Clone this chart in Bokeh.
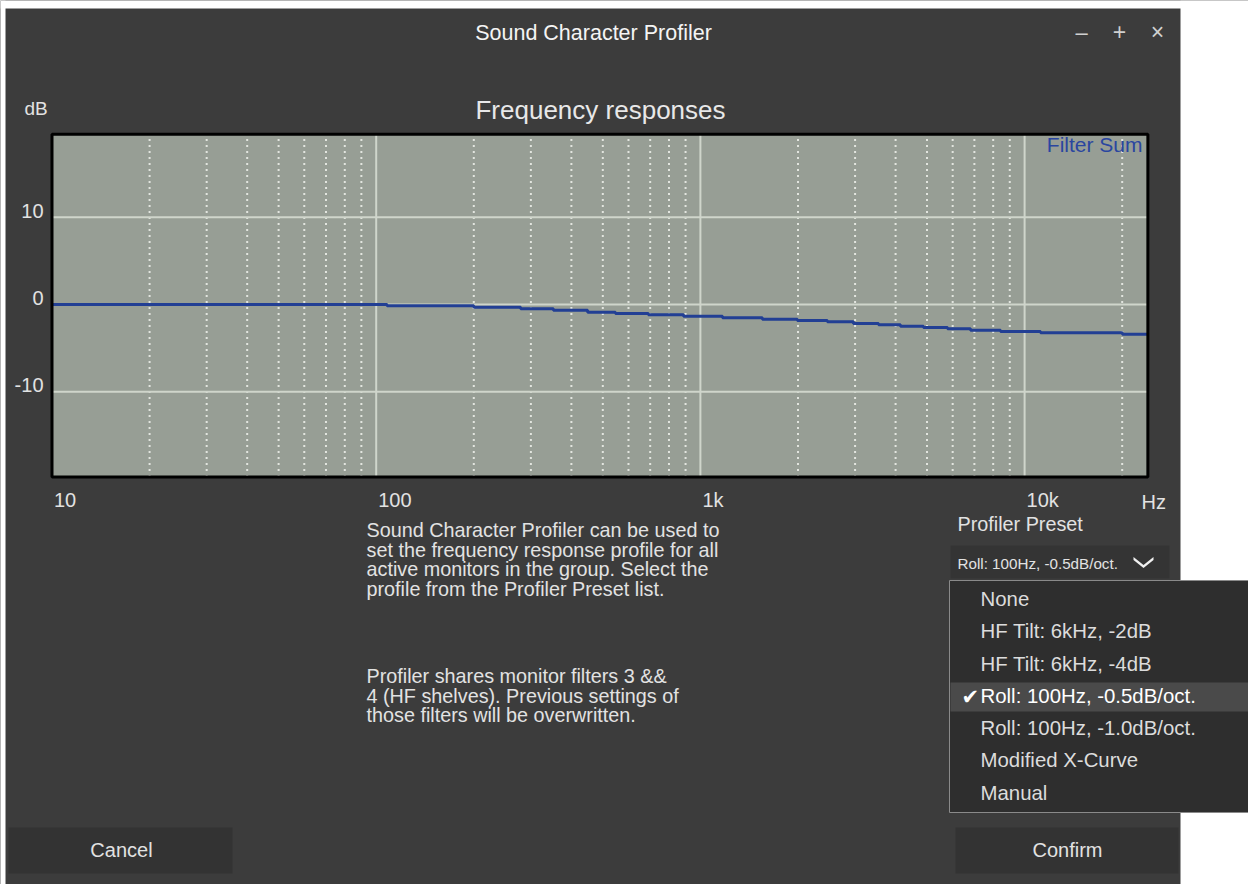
from bokeh.plotting import figure
from bokeh.models import Label, BoxAnnotation, PolyAnnotation, Range1d
from bokeh.core.properties import value
from bokeh.embed import file_html
from bokeh.resources import INLINE

# ---------------- data ----------------
freq_hz = [10, 108, 200, 279, 352, 449, 547, 691, 887, 1170, 1553, 1991, 2464,
           2965, 3544, 4141, 4877, 5785, 6812, 8430, 11200, 20030, 24000]
gain_db = [0.0, -0.15, -0.31, -0.49, -0.65, -0.88, -1.03, -1.18, -1.34, -1.53,
           -1.69, -1.83, -1.98, -2.18, -2.33, -2.49, -2.64, -2.79, -2.95, -3.10,
           -3.25, -3.41, -3.41]
series_name = "Filter Sum"

chart_x = [10, 24000]          # frequency extent of the response chart (Hz)
chart_y = [-19.75, 19.5]       # level extent of the response chart (dB)
x_ticks = [10, 100, 1000, 10000]
x_tick_labels = ["10", "100", "1k", "10k"]
x_minor_ticks = [20, 30, 40, 50, 60, 70, 80, 90,
                 200, 300, 400, 500, 600, 700, 800, 900,
                 2000, 3000, 4000, 5000, 6000, 7000, 8000, 9000,
                 20000]
y_ticks = [-10, 0, 10]
y_tick_labels = ["-10", "0", "10"]

window_title = "Sound Character Profiler"
chart_title = "Frequency responses"
y_unit = "dB"
x_unit = "Hz"
info_par1 = ["Sound Character Profiler can be used to",
             "set the frequency response profile for all",
             "active monitors in the group. Select the",
             "profile from the Profiler Preset list."]
info_par2 = ["Profiler shares monitor filters 3 &&",
             "4 (HF shelves). Previous settings of",
             "those filters will be overwritten."]
preset_label = "Profiler Preset"
presets = ["None", "HF Tilt: 6kHz, -2dB", "HF Tilt: 6kHz, -4dB",
           "Roll: 100Hz, -0.5dB/oct.", "Roll: 100Hz, -1.0dB/oct.",
           "Modified X-Curve", "Manual"]
selected_preset = 3
buttons = ["Cancel", "Confirm"]

# ---------------- layout / styling ----------------
W, H = 1248, 884
FONT = "Liberation Sans"
PANEL = "#3c3c3c"
TXT = "#e2e2e2"
GRID = "#cfd5cb"

# the whole canvas is the plot frame; the scales are set so that the
# response chart sits where the window draws it
PX_PER_DEC, PX_100HZ = 324.2, 375.7
PX_PER_DB, PX_0DB = 8.73, 304.0
x_range = Range1d(10 ** (2 - PX_100HZ / PX_PER_DEC),
                  10 ** (2 + (W - PX_100HZ) / PX_PER_DEC))
y_range = Range1d(-(H - PX_0DB) / PX_PER_DB, PX_0DB / PX_PER_DB)

p = figure(width=W, height=H, x_axis_type="log", x_range=x_range, y_range=y_range,
           x_axis_location=None, y_axis_location=None, title=None,
           output_backend="svg", toolbar_location=None,
           min_border=0, min_border_left=0, min_border_right=0,
           min_border_top=0, min_border_bottom=0)
p.background_fill_color = PANEL
p.border_fill_color = PANEL
p.outline_line_color = None
p.xgrid.visible = False
p.ygrid.visible = False

# chart background
p.quad(left=[chart_x[0]], right=[chart_x[1]], bottom=[chart_y[0]], top=[chart_y[1]],
       fill_color="#979e95", line_color=None)

# grid lines
p.segment(x0=x_minor_ticks, x1=x_minor_ticks,
          y0=[chart_y[0]] * len(x_minor_ticks), y1=[chart_y[1]] * len(x_minor_ticks),
          line_color="#e2e5df", line_width=2, line_dash="2 4")
p.segment(x0=x_ticks, x1=x_ticks,
          y0=[chart_y[0]] * len(x_ticks), y1=[chart_y[1]] * len(x_ticks),
          line_color=GRID, line_width=2)
p.segment(x0=[chart_x[0]] * len(y_ticks), x1=[chart_x[1]] * len(y_ticks),
          y0=y_ticks, y1=y_ticks, line_color=GRID, line_width=2)

# response curve
p.step(freq_hz, gain_db, mode="after", line_color="#223f94", line_width=3)

# tick labels
p.text(x=x_ticks, y=[chart_y[0]] * len(x_ticks), text=x_tick_labels,
       x_offset=2, y_offset=23.5, text_align="left", text_baseline="alphabetic",
       text_font=value(FONT), text_font_size="20px", text_color=TXT)
p.text(x=[chart_x[0]] * len(y_ticks), y=y_ticks, text=y_tick_labels,
       x_offset=-8.5, y_offset=-6.5, text_align="right", text_baseline="alphabetic",
       text_font=value(FONT), text_font_size="20px", text_color=TXT)

# chart border
p.add_layout(BoxAnnotation(left=chart_x[0], right=chart_x[1],
                           bottom=chart_y[0], top=chart_y[1],
                           fill_alpha=0, line_color="black", line_width=3, line_alpha=1))


# ---------------- window chrome (screen units, y measured from the top) ----------------
def sx(px):
    return px


def sy(py):
    return H - py


def box(x0, y0, x1, y1, fill, line=None, lw=1):
    p.add_layout(BoxAnnotation(left=sx(x0), right=sx(x1), top=sy(y0), bottom=sy(y1),
                               left_units="screen", right_units="screen",
                               top_units="screen", bottom_units="screen",
                               fill_color=fill, fill_alpha=1,
                               line_color=line, line_width=lw, line_alpha=1))


def label(px, py, text, size, color=TXT, align="left", font=FONT, style="normal"):
    # py is the wanted baseline; compensate the renderer's baseline placement
    p.add_layout(Label(x=sx(px), y=sy(py - 0.37 * size), x_units="screen", y_units="screen",
                       text=text, text_font=font, text_font_size=f"{size}px",
                       text_color=color, text_align=align, text_baseline="alphabetic",
                       text_font_style=style))


# white page around the window
box(0, 0, W, 8, "white")
box(0, 0, 5, H, "white")
box(1180, 0, W, H, "white")

# window title & controls
label(593, 40, window_title, 21.5, "#f4f4f4", "center")
label(1081, 40, "\u2013", 22, "#d0d0d0", "center")
label(1119, 40, "+", 23, "#d0d0d0", "center")
label(1157, 40, "\u00d7", 23, "#d0d0d0", "center")

# chart titles
label(600, 119, chart_title, 26, "#e8e8e8", "center")
label(24, 115, y_unit, 19, TXT)
label(1141, 509, x_unit, 20, TXT)
label(1142, 152, series_name, 21, "#2a46a0", "right")

# info text
for i, t in enumerate(info_par1):
    label(366, 537 + 19.5 * i, t, 19.8, TXT)
for i, t in enumerate(info_par2):
    label(366, 683 + 19.5 * i, t, 19.8, TXT)

# preset selector
label(957, 531, preset_label, 19.8, TXT)
box(950, 545, 1169, 578, "#343434")
label(957, 568.5, presets[selected_preset], 15.2, TXT)
p.add_layout(PolyAnnotation(xs=[sx(v) for v in [1133, 1143, 1153, 1153, 1143, 1133]],
                            ys=[sy(v) for v in [556.5, 564.5, 556.5, 559.5, 567.5, 559.5]],
                            xs_units="screen", ys_units="screen",
                            fill_color="#f0f0f0", fill_alpha=1, line_color=None))

# dropdown menu
box(949, 580, W + 2, 812, "#2e2e2e", "#8a8a8a", 1)
row_h = 32.3
box(950, 682, W + 2, 711, "#4a4a4a")
for i, t in enumerate(presets):
    yb = 606 + row_h * i
    col = "#ffffff" if i == selected_preset else "#dcdcdc"
    label(980, yb, t, 20.4, col)
    if i == selected_preset:
        label(961, yb + 1, "\u2714", 21, "#ffffff", font="DejaVu Sans")

# buttons
box(8, 827, 232, 873, "#333333")
box(955, 827, 1178, 873, "#333333")
label(121, 857, buttons[0], 20, TXT, "center")
label(1067, 857, buttons[1], 20, TXT, "center")

open("out.html", "w").write(file_html(p, INLINE))
